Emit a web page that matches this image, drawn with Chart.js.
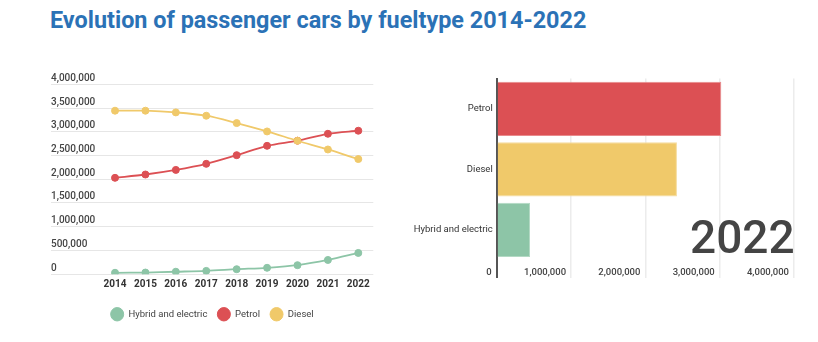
<!DOCTYPE html>
<html>
<head>
<meta charset="utf-8">
<script src="https://cdn.jsdelivr.net/npm/chart.js@4"></script>
<style>
  html, body { margin: 0; padding: 0; background: #fff; }
  body { width: 818px; height: 342px; position: relative; overflow: hidden; font-family: Roboto, sans-serif; }
  #title { position: absolute; left: 50px; top: 9px; font-size: 23.4px; font-weight: 700; line-height: 1; color: #2b72b6; white-space: nowrap; }
  #lineWrap { position: absolute; left: 0; top: 40px; width: 420px; height: 302px; }
  #barWrap { position: absolute; left: 400px; top: 40px; width: 418px; height: 242px; }
  #yearLabel { position: absolute; left: 690px; top: 214px; font-size: 46px; font-weight: 500; line-height: 1; color: #444; }
</style>
</head>
<body>
<div id="title">Evolution of passenger cars by fueltype 2014-2022</div>
<div id="lineWrap"><canvas id="lineChart"></canvas></div>
<div id="barWrap"><canvas id="barChart"></canvas></div>
<div id="yearLabel"></div>
<script>
// data
const years = [2014, 2015, 2016, 2017, 2018, 2019, 2020, 2021, 2022];
const hybrid = [30000, 35000, 52000, 70000, 105000, 135000, 190000, 300000, 448000];
const petrol = [2030000, 2100000, 2197000, 2325000, 2507000, 2704000, 2812000, 2958000, 3022000];
const diesel = [3444000, 3444000, 3408000, 3338000, 3183000, 3007000, 2811000, 2627000, 2425000];
const yTicks = [0, 500000, 1000000, 1500000, 2000000, 2500000, 3000000, 3500000, 4000000];
const barTicks = [0, 1000000, 2000000, 3000000, 4000000];

const GREEN = '#8dc5a7';
const RED = '#dc5054';
const YELLOW = '#f0c96a';

Chart.defaults.font.family = 'Roboto, sans-serif';
Chart.defaults.animation = false;

const fmt = v => Number(v).toLocaleString('en-US');

let lineData = (vals) => years.map((y, i) => ({x: y, y: vals[i]}));

new Chart(document.getElementById('lineChart'), {
    type: 'line',
    data: {
        datasets: [
            {label: 'Hybrid and electric', data: lineData(hybrid), borderColor: GREEN, backgroundColor: GREEN, order: 2},
            {label: 'Petrol', data: lineData(petrol), borderColor: RED, backgroundColor: RED, order: 1},
            {label: 'Diesel', data: lineData(diesel), borderColor: YELLOW, backgroundColor: YELLOW, order: 0},
        ]
    },
    options: {
        responsive: true,
        maintainAspectRatio: false,
        layout: { padding: {left: 51, right: 46.7, top: 44.3, bottom: 13} },
        elements: {
            line: { borderWidth: 1.8, tension: 0.3 },
            point: { radius: 3.5, borderWidth: 1, hoverRadius: 3.5 }
        },
        scales: {
            x: {
                type: 'linear',
                min: 2011.895,
                max: 2022.493,
                grid: { display: false, drawTicks: false },
                border: { display: false },
                afterBuildTicks: (scale) => { scale.ticks = years.map(v => ({value: v})); },
                afterFit: (scale) => { scale.height = 25.3; },
                ticks: {
                    autoSkip: false,
                    maxRotation: 0,
                    padding: 4,
                    color: '#333',
                    font: { size: 10, weight: 'bold' },
                    callback: (v) => String(v)
                }
            },
            y: {
                min: 0,
                max: 4000000,
                afterBuildTicks: (scale) => { scale.ticks = yTicks.map(v => ({value: v})); },
                grid: { color: '#e6e6e6', drawTicks: false },
                border: { display: false },
                ticks: {
                    mirror: true,
                    padding: 0,
                    align: 'end',
                    labelOffset: -1,
                    color: '#444',
                    font: { size: 10, weight: '500' },
                    callback: (v) => fmt(v)
                }
            }
        },
        plugins: {
            tooltip: { enabled: false },
            legend: {
                position: 'bottom',
                fullSize: false,
                labels: {
                    usePointStyle: true,
                    pointStyle: 'circle',
                    pointStyleWidth: 13,
                    padding: 10,
                    color: '#444',
                    font: { size: 9.5 },
                    sort: (a, b) => a.datasetIndex - b.datasetIndex
                }
            }
        }
    }
});

// bar chart for the last year, sorted by value
const lastIdx = years.length - 1;
const barRows = [
    {name: 'Hybrid and electric', value: hybrid[lastIdx], color: GREEN, edge: '#b3d9c4'},
    {name: 'Petrol', value: petrol[lastIdx], color: RED, edge: '#e98a8c'},
    {name: 'Diesel', value: diesel[lastIdx], color: YELLOW, edge: '#f5dc9e'},
].sort((a, b) => b.value - a.value);

document.getElementById('yearLabel').textContent = years[lastIdx];

new Chart(document.getElementById('barChart'), {
    type: 'bar',
    data: {
        labels: barRows.map(r => r.name),
        datasets: [{
            data: barRows.map(r => r.value),
            backgroundColor: barRows.map(r => r.color),
            borderColor: barRows.map(r => r.edge),
            borderWidth: 1,
            categoryPercentage: 0.9,
            barPercentage: 1
        }]
    },
    options: {
        indexAxis: 'y',
        responsive: true,
        maintainAspectRatio: false,
        layout: { padding: {left: 0, right: 24, top: 38.6, bottom: 1.9} },
        scales: {
            x: {
                min: 0,
                max: 4000000,
                afterBuildTicks: (scale) => { scale.ticks = barTicks.map(v => ({value: v})); },
                afterFit: (scale) => { scale.height = 20; },
                border: { display: false },
                grid: {
                    drawTicks: true,
                    tickLength: 18,
                    color: (ctx) => (ctx.tick && ctx.tick.value === 0) ? '#555' : '#ececec',
                    lineWidth: (ctx) => (ctx.tick && ctx.tick.value === 0) ? 2 : 1.5
                },
                ticks: {
                    align: 'end',
                    labelOffset: -5,
                    padding: -11.5,
                    maxRotation: 0,
                    autoSkip: false,
                    color: '#444',
                    font: { size: 9.5, weight: '500' },
                    callback: (v) => fmt(v)
                }
            },
            y: {
                afterFit: (scale) => { scale.width = 96.7; },
                grid: { display: false, drawTicks: false },
                border: { display: true, color: '#555', width: 2 },
                ticks: {
                    padding: 4,
                    color: '#333',
                    font: { size: 9.5 }
                }
            }
        },
        plugins: {
            legend: { display: false },
            tooltip: { enabled: false }
        }
    }
});
</script>
</body>
</html>
